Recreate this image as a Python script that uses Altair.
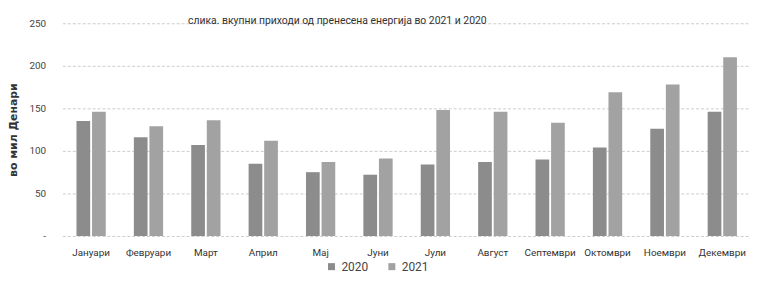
import altair as alt
import pandas as pd

months = ["Јануари", "Февруари", "Март", "Април", "Мај", "Јуни",
          "Јули", "Август", "Септември", "Октомври", "Ноември", "Декември"]
years = ["2020", "2021"]
v2020 = [135, 116, 107, 85, 75, 72, 84, 87, 90, 104, 126, 146]
v2021 = [146, 129, 136, 112, 87, 91, 148, 146, 133, 169, 178, 210]

rows = []
for m, a, b in zip(months, v2020, v2021):
    rows.append({"month": m, "year": "2020", "value": a})
    rows.append({"month": m, "year": "2021", "value": b})
df = pd.DataFrame(rows)

FONT = "Roboto"

chart = alt.Chart(df).mark_bar().encode(
    x=alt.X("month:N", sort=months, title=None,
            scale=alt.Scale(range=[0, 696], paddingInner=0.49, paddingOuter=0.245),
            axis=alt.Axis(labelAngle=0, domain=False, ticks=False, grid=False,
                          labelFont=FONT, labelFontSize=10, labelColor="#333",
                          labelPadding=12)),
    xOffset=alt.XOffset("year:N", sort=years,
                        scale=alt.Scale(paddingInner=0.12, paddingOuter=0)),
    y=alt.Y("value:Q", title="во мил Денари",
            scale=alt.Scale(domain=[0, 250], nice=False),
            axis=alt.Axis(values=[0, 50, 100, 150, 200, 250],
                          labelExpr="datum.value == 0 ? '-' : datum.label",
                          domain=False, ticks=False, labelPadding=17,
                          labelFont=FONT, labelFontSize=10, labelColor="#444",
                          gridColor="#cccccc", gridDash=[3, 2], gridWidth=1,
                          titleFont="DejaVu Sans", titleFontSize=11,
                          titleFontWeight="bold", titleColor="#333",
                          titlePadding=11)),
    color=alt.Color("year:N", sort=years,
                    scale=alt.Scale(domain=years, range=["#8c8c8c", "#a2a2a2"]),
                    legend=alt.Legend(title=None, orient="none", direction="horizontal",
                                      legendX=266, legendY=240,
                                      symbolType="square", symbolSize=50,
                                      labelFont=FONT, labelFontSize=12,
                                      labelColor="#444", columnPadding=18)),
).properties(
    width=695, height=215,
    autosize=alt.AutoSizeParams(type="none"),
    padding={"left": 55, "top": 14, "right": 0, "bottom": 37},
    title=alt.TitleParams("слика.  вкупни приходи од пренесена енергија во 2021 и 2020",
                          anchor="start", frame="group", dx=127, offset=-8, font=FONT,
                          fontSize=10.5, fontWeight="normal", color="#333"),
).configure_view(stroke=None)

chart.save("out.html", embed_options={"renderer": "svg", "actions": False})
